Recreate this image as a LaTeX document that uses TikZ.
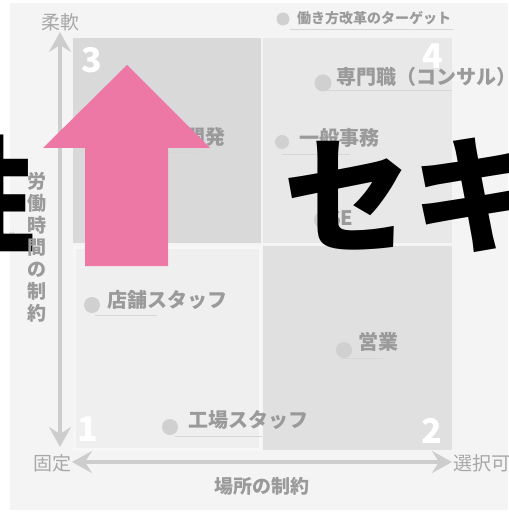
\documentclass[tikz,border=0pt]{standalone}
\usepackage{fontspec}
\newfontfamily\cjk{Noto Sans CJK JP}
\usetikzlibrary{arrows.meta}
\definecolor{panel}{HTML}{F4F4F4}
\definecolor{qthree}{HTML}{D9D9D9}
\definecolor{qfour}{HTML}{E8E8E8}
\definecolor{qtwo}{HTML}{E0E0E0}
\definecolor{qone}{HTML}{EFEFEF}
\definecolor{qoneedge}{HTML}{F7F7F7}
\definecolor{itemgray}{HTML}{9A9A9A}
\definecolor{axisgray}{HTML}{A8A8A8}
\definecolor{bulletgray}{HTML}{D0D0D0}
\definecolor{linegray}{HTML}{D6D6D6}
\definecolor{axisline}{HTML}{CDCDCD}
\definecolor{pinkarrow}{HTML}{EE78A5}
\tikzset{
  itemtext/.style={font=\cjk\bfseries\fontsize{20}{20}\selectfont, text=itemgray, inner sep=0pt, anchor=west},
  smalltext/.style={font=\cjk\bfseries\fontsize{14}{14}\selectfont, text=itemgray, inner sep=0pt, anchor=west},
  bullet/.style={circle, fill=bulletgray, inner sep=0pt, minimum size=16pt},
  uline/.style={draw=linegray, line width=0.8pt},
  qnum/.style={font=\cjk\bfseries\fontsize{34}{34}\selectfont, text=white, inner sep=0pt},
  axislabel/.style={font=\cjk\fontsize{19}{19}\selectfont, text=axisgray, inner sep=0pt},
  axistitle/.style={font=\cjk\bfseries\fontsize{19}{22}\selectfont, text=itemgray, inner sep=0pt, align=center},
  axisline/.style={draw=axisline, line width=4pt, {Stealth[length=20pt,width=22pt,inset=7pt]}-{Stealth[length=20pt,width=22pt,inset=7pt]}},
  bigtext/.style={font=\cjk\bfseries\fontsize{128}{128}\selectfont, text=black, inner sep=0pt, anchor=west}
}
\begin{document}
\begin{tikzpicture}[x=1pt,y=-1pt]
\useasboundingbox (0,0) rectangle (508,513);
\clip (0,0) rectangle (508,513);
\fill[white] (0,0) rectangle (508,513);
\fill[panel] (10,3) rectangle (508,510);
% quadrants
\fill[qthree] (73,38) rectangle (261,243);
\fill[qfour] (263,38) rectangle (452,243);
\fill[qtwo] (263,246) rectangle (452,450);
\fill[qone, draw=qoneedge, line width=3pt] (74,247) rectangle (260,449);
% quadrant numbers
\node[qnum] (n3) at (92,60) {3};
\node[qnum] (n4) at (433,56) {4};
\node[qnum] (n1) at (88,429) {1};
\node[qnum] (n2) at (432,431) {2};
% axes
\coordinate (vtop) at (60,32);
\coordinate (vbot) at (60,447);
\coordinate (hl) at (72,462);
\coordinate (hr) at (452,462);
\draw[axisline] (vtop) -- (vbot);
\draw[axisline] (hl) -- (hr);
\node[axislabel] (soft) at (60,22) {柔軟};
\node[axislabel] (fixed) at (52,463) {固定};
\node[axislabel, anchor=west] (choose) at (453,463) {選択可};
\node[axistitle] (place) at (262,486) {場所の制約};
% legend
\node[bullet, minimum size=13pt] (bl) at (283,19) {};
\node[smalltext] (tl) at (297,18) {働き方改革のターゲット};
\coordinate (ula) at (290,29); \coordinate (ulb) at (453,29);
\draw[uline] (ula) -- (ulb);
% items
\node[bullet, minimum size=17pt] (b1) at (323,83) {};
\node[itemtext] (t1) at (336,77) {専門職（コンサル）};
\coordinate (u1a) at (327,90); \coordinate (u1b) at (452,90);
\draw[uline] (u1a) -- (u1b);
\node[bullet, minimum size=14pt] (b2) at (282,142) {};
\node[itemtext] (t2) at (299,138) {一般事務};
\coordinate (u2a) at (282,154); \coordinate (u2b) at (350,154);
\draw[uline] (u2a) -- (u2b);
\node[bullet] (b3) at (322,220) {};
\node[itemtext] (t3) at (328,218) {SE};
\coordinate (u3a) at (322,233); \coordinate (u3b) at (370,233);
\draw[uline] (u3a) -- (u3b);
\node[itemtext, anchor=east] (t4) at (226,137) {研究開発};
\coordinate (u4a) at (110,152); \coordinate (u4b) at (197,152);
\draw[uline] (u4a) -- (u4b);
\node[bullet] (b5) at (92,305) {};
\node[itemtext] (t5) at (107,300) {店舗スタッフ};
\coordinate (u5a) at (95,315); \coordinate (u5b) at (157,315);
\draw[uline] (u5a) -- (u5b);
\node[bullet] (b6) at (344,350) {};
\node[itemtext] (t6) at (358,342) {営業};
\coordinate (u6a) at (340,358); \coordinate (u6b) at (383,358);
\draw[uline] (u6a) -- (u6b);
\node[bullet] (b7) at (170,427) {};
\node[itemtext] (t7) at (188,420) {工場スタッフ};
\coordinate (u7a) at (175,436); \coordinate (u7b) at (262,436);
\draw[uline] (u7a) -- (u7b);
% faint text
\node[font=\cjk\fontsize{14}{14}\selectfont, text=black!22, inner sep=0pt] (faint) at (8,238) {ば};
% overlays
\fill[pinkarrow] (127,65) -- (210,148) -- (168,148) -- (168,266) -- (85,266) -- (85,148) -- (43,148) -- cycle;
\node[bigtext] (bigA) at (-92,195) {性};
\node[bigtext] (bigB) at (283,195) {セキ};
\node[axistitle] (time) at (37,247) {労\\働\\時\\間\\の\\制\\約};
\end{tikzpicture}
\end{document}
